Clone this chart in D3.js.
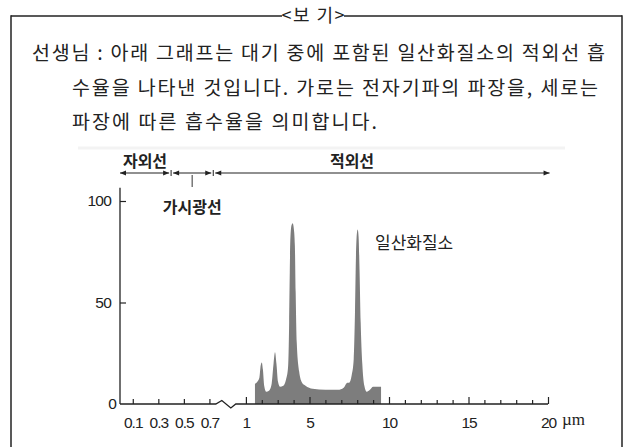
<!DOCTYPE html>
<html>
<head>
<meta charset="utf-8">
<script src="https://cdn.jsdelivr.net/npm/d3@7"></script>
<style>
  html, body { margin: 0; padding: 0; background: #fff; }
  svg { display: block; }
</style>
</head>
<body>
<div id="chart"></div>
<script>
// text of the <보기> box
const boxTitle = "<보 기>";
const boxLines = [
  "선생님 : 아래 그래프는 대기 중에 포함된 일산화질소의 적외선 흡",
  "수율을 나타낸 것입니다. 가로는 전자기파의 파장을, 세로는",
  "파장에 따른 흡수율을 의미합니다."
];

// absorption spectrum of NO (wavelength in um, absorption in %)
const wavelength = [1.57, 1.72, 1.85, 1.93, 2.00, 2.07, 2.15, 2.28, 2.45, 2.62, 2.74, 2.83, 2.92, 3.02, 3.15, 3.35,
  3.52, 3.65, 3.72, 3.76, 3.80, 3.87, 3.94, 4.02, 4.08, 4.13, 4.20, 4.35, 4.50, 4.75, 5.20, 6.00, 6.80,
  7.15, 7.38, 7.50, 7.65, 7.78, 7.86, 7.92, 7.98, 8.03, 8.09, 8.15, 8.22, 8.32, 8.45, 8.60, 8.80, 9.00, 9.50];
const absorption = [10, 11, 13, 19, 20.5, 17, 9, 6, 6.5, 10, 20, 25.5, 20, 11, 8.5, 9,
  12, 18, 40, 65, 82, 88, 89, 86, 78, 55, 30, 16, 11, 9, 7.5, 7, 7,
  8, 10.5, 10.5, 14, 22, 45, 72, 84, 86, 82, 65, 40, 20, 9, 6, 7, 8.5, 8.5];

// axis ticks
const lowTicks = [0.1, 0.3, 0.5, 0.7];
const highTicks = [1, 2, 3, 4, 5, 6, 7, 8, 9, 10, 11, 12, 13, 14, 15, 16, 17, 18, 19, 20];
const highLabels = [1, 5, 10, 15, 20];
const yTicks = [0, 50, 100];

// spectrum bands above the chart
const bandNames = ["자외선", "가시광선", "적외선"];
const bandStart = [0, 0.4, 0.73];
const bandEnd = [0.4, 0.73, 20.1];

const W = 627, H = 447;
const svg = d3.select("#chart").append("svg")
  .attr("width", W).attr("height", H);

const ink = "#222";
const krSans = "'Noto Sans CJK KR', sans-serif";

// ---- box ----
svg.append("line").attr("x1", 11).attr("y1", 16).attr("x2", 282).attr("y2", 16)
  .attr("stroke", ink).attr("stroke-width", 1.5);
svg.append("line").attr("x1", 344).attr("y1", 16).attr("x2", 622).attr("y2", 16)
  .attr("stroke", ink).attr("stroke-width", 1.5);
svg.append("line").attr("x1", 11).attr("y1", 15.3).attr("x2", 11).attr("y2", H)
  .attr("stroke", ink).attr("stroke-width", 1.5);
svg.append("line").attr("x1", 622).attr("y1", 15.3).attr("x2", 622).attr("y2", H)
  .attr("stroke", ink).attr("stroke-width", 1.5);

svg.append("text").text(boxTitle)
  .attr("x", 313).attr("y", 22)
  .attr("text-anchor", "middle")
  .attr("textLength", 63).attr("lengthAdjust", "spacing")
  .style("font-family", krSans).style("font-size", "18px").style("fill", ink);

const lineX = [32, 72, 72];
const lineY = [60, 95, 129];
const lineLen = [573, 526, 305];
boxLines.forEach((t, i) => {
  svg.append("text").text(t)
    .attr("x", lineX[i]).attr("y", lineY[i])
    .attr("textLength", lineLen[i]).attr("lengthAdjust", "spacing")
    .style("font-family", krSans).style("font-size", "19.5px").style("fill", ink);
});

// faint scan band
svg.append("line").attr("x1", 78).attr("y1", 148).attr("x2", 565).attr("y2", 148)
  .attr("stroke", "#f3f3f3").attr("stroke-width", 3);

// ---- scales ----
const xLow = d3.scaleLinear().domain([0, 0.8]).range([120, 222.2]);
const xHigh = d3.scaleLinear().domain([1, 20]).range([245.9, 548]);
const y = d3.scaleLinear().domain([0, 100]).range([404, 201]);
const bx = v => (v < 0.9 ? xLow(v) : xHigh(v));

// ---- absorption area ----
const spectrum = wavelength.map((w, i) => [w, absorption[i]]);
const area = d3.area()
  .x(d => xHigh(d[0]))
  .y0(y(0))
  .y1(d => y(d[1]))
  .curve(d3.curveMonotoneX);

svg.append("path").datum(spectrum)
  .attr("d", area)
  .attr("fill", "#7d7d7d");

// ---- x axis ----
const lowAxis = svg.append("g")
  .attr("transform", `translate(0,${y(0)})`)
  .call(d3.axisBottom(xLow).tickValues(lowTicks).tickSize(-5).tickPadding(13)
    .tickFormat(d3.format(".1f")));

const highAxis = svg.append("g")
  .attr("transform", `translate(0,${y(0)})`)
  .call(d3.axisBottom(xHigh).tickValues(highTicks).tickSize(-4).tickPadding(13)
    .tickFormat(d => highLabels.includes(d) ? d : ""));

highAxis.selectAll(".tick line")
  .attr("y2", d => highLabels.includes(d) ? -7 : -4);

[lowAxis, highAxis].forEach(g => {
  g.select(".domain").remove();
  g.selectAll(".tick line").attr("stroke", ink).attr("stroke-width", 1.2);
  g.selectAll(".tick text")
    .style("font-family", "'Liberation Sans', Arial, sans-serif")
    .style("font-size", "15.5px").style("fill", ink)
    .style("letter-spacing", "-1px");
});

// baseline with break zigzag
const b0 = y(0);
const zx = xLow(0.75);
svg.append("path")
  .attr("d", `M${xLow(0)},${b0}H${zx}L${zx + 6},${b0 - 3.5}L${zx + 15},${b0 + 4}L${zx + 20},${b0}H${xHigh(20)}`)
  .attr("fill", "none").attr("stroke", ink).attr("stroke-width", 1.3);

svg.append("text").text("µm")
  .attr("x", xHigh(20) + 14).attr("y", 425)
  .style("font-family", "'Liberation Serif', serif")
  .style("font-size", "17px").style("fill", ink);

// ---- y axis ----
const yAxis = svg.append("g")
  .attr("transform", `translate(${xLow(0)},0)`)
  .call(d3.axisLeft(y).tickValues(yTicks).tickSize(-6).tickPadding(9));
yAxis.select(".domain").remove();
yAxis.selectAll(".tick line").attr("stroke", ink).attr("stroke-width", 1.2);
yAxis.selectAll(".tick text")
  .style("font-family", "'Liberation Sans', Arial, sans-serif")
  .style("font-size", "15.5px").style("fill", ink)
  .style("letter-spacing", "-0.8px");
yAxis.selectAll(".tick").filter(d => d === 0).select("line").remove();
yAxis.selectAll(".tick").filter(d => d === 0).select("text").attr("x", -4);

svg.append("line")
  .attr("x1", xLow(0)).attr("x2", xLow(0))
  .attr("y1", y(106.5)).attr("y2", y(0))
  .attr("stroke", ink).attr("stroke-width", 1.3);

// ---- band arrows ----
const arrowY = 173;
const head = (x, dir) => `M${x},${arrowY}l${-dir * 6},-2.5v5z`;

bandNames.forEach((name, i) => {
  const x1 = bx(bandStart[i]) + (i === 0 ? 0 : 2);
  const x2 = bx(bandEnd[i]) - (i === 2 ? 0 : 2);
  svg.append("line")
    .attr("x1", x1).attr("x2", x2).attr("y1", arrowY).attr("y2", arrowY)
    .attr("stroke", ink).attr("stroke-width", 1.1);
  svg.append("path").attr("d", head(x1, -1)).attr("fill", ink);
  svg.append("path").attr("d", head(x2, 1)).attr("fill", ink);
});

// boundary bars
[bandEnd[0], bandEnd[1]].forEach(v => {
  svg.append("line")
    .attr("x1", bx(v)).attr("x2", bx(v))
    .attr("y1", arrowY - 3).attr("y2", arrowY + 3)
    .attr("stroke", ink).attr("stroke-width", 1);
});

// band labels
const visMid = bx((bandStart[1] + bandEnd[1]) / 2);
svg.append("line")
  .attr("x1", visMid).attr("x2", visMid)
  .attr("y1", arrowY + 2).attr("y2", arrowY + 14)
  .attr("stroke", "#555").attr("stroke-width", 1.2);

const labelX = [bx(0) + 25, visMid, 352];
const labelY = [167, 213, 167];
bandNames.forEach((name, i) => {
  svg.append("text").text(name)
    .attr("x", labelX[i]).attr("y", labelY[i])
    .attr("text-anchor", "middle")
    .style("font-family", krSans).style("font-weight", "bold")
    .style("font-size", "16px").style("fill", ink);
});

// series label
svg.append("text").text("일산화질소")
  .attr("x", 375).attr("y", 249)
  .style("font-family", krSans).style("font-size", "17px").style("fill", ink);
</script>
</body>
</html>
